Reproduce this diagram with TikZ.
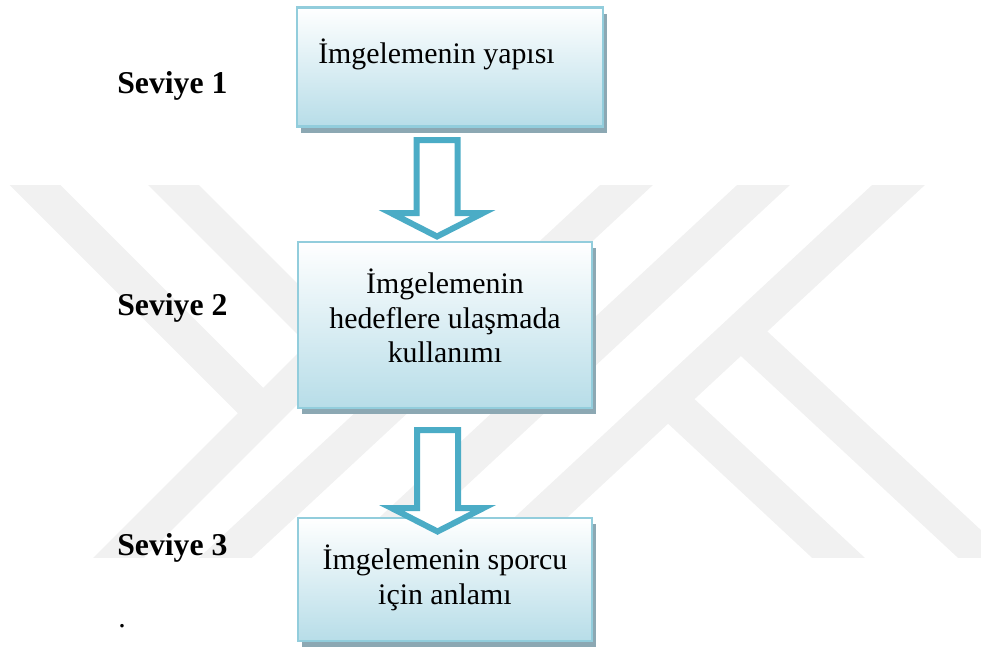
\documentclass[tikz,border=0pt]{standalone}
\usepackage{fontspec}
\setmainfont{Liberation Serif}
\usetikzlibrary{shadows,calc}
\definecolor{wmgray}{RGB}{241,241,241}
\definecolor{boxedge}{RGB}{146,205,220}
\definecolor{boxfill}{RGB}{183,221,232}
\definecolor{boxshadow}{RGB}{140,168,179}
\definecolor{arrowblue}{RGB}{75,172,198}
\newcommand{\pxl}{0.75pt}
\newcommand{\FlowArrow}[2]{\draw[flowarrow] ($(#1)+(-20.5,0)$) -- ($(#2)+(-20.5,-23.5)$) -- ($(#2)+(-46,-23.5)$) -- (#2) -- ($(#2)+(46,-23.5)$) -- ($(#2)+(20.5,-23.5)$) -- ($(#1)+(20.5,0)$) -- cycle;}
\tikzset{
	levelbox/.style={draw=boxedge, line width=1.8pt, top color=white, bottom color=boxfill, inner sep=0pt,
		drop shadow={shadow xshift=3pt, shadow yshift=-4.5pt, fill=boxshadow, opacity=1}},
	boxtext/.style={font=\fontsize{22.4}{26}\selectfont, align=center, inner sep=0pt},
	leveltext/.style={font=\fontsize{23.8}{27}\selectfont\bfseries, anchor=base west, inner sep=0pt},
	flowarrow/.style={draw=arrowblue, fill=white, line width=4.5pt, line join=miter},
	wmband/.style={draw=wmgray, line width=27pt},
}

\begin{document}
\begin{tikzpicture}[x=\pxl, y=-\pxl]
\useasboundingbox (0,0) rectangle (981,651);

\begin{scope}
	\clip (0,185) rectangle (981,557);
	\draw[wmband] (15,165) -- (263,413);
	\draw[wmband] (153.5,165) -- (332.5,344);
	\draw[wmband] (332.5,344) -- (99.5,577);
	\draw[wmband] (648,165) -- (204.7,577);
	\draw[wmband] (785,165) -- (341.7,577);
	\draw[wmband] (920,165) -- (476.7,577);
	\draw[wmband] (741,331.5) -- (1005,577);
	\draw[wmband] (668,399) -- (859,577);
\end{scope}

	\node[levelbox, minimum width=306*\pxl, minimum height=119*\pxl] (b1) at (450,67) {};
	\node[levelbox, minimum width=294*\pxl, minimum height=166*\pxl] (b2) at (445,325) {};
	\node[levelbox, minimum width=294*\pxl, minimum height=123*\pxl] (b3) at (445,579.5) {};

	\coordinate (a1top) at (437,140);
	\coordinate (a1tip) at (437,236.5);
	\coordinate (a2top) at (437.5,430);
	\coordinate (a2tip) at (437.5,531.5);
	\FlowArrow{a1top}{a1tip}
	\FlowArrow{a2top}{a2tip}

	\node[boxtext, anchor=base west] (t1) at (318,63) {İmgelemenin yapısı};
	\node[boxtext] (t2) at (445,316) {İmgelemenin\\hedeflere ulaşmada\\kullanımı};
	\node[boxtext] (t3) at (445,578) {İmgelemenin sporcu\\için anlamı};

	\node[leveltext] (lvl1) at (117,93) {Seviye 1};
	\node[leveltext] (lvl2) at (117,315) {Seviye 2};
	\node[leveltext] (lvl3) at (117,555) {Seviye 3};
	\node[boxtext, anchor=base west] (mark) at (118,627) {.};

\end{tikzpicture}
\end{document}
